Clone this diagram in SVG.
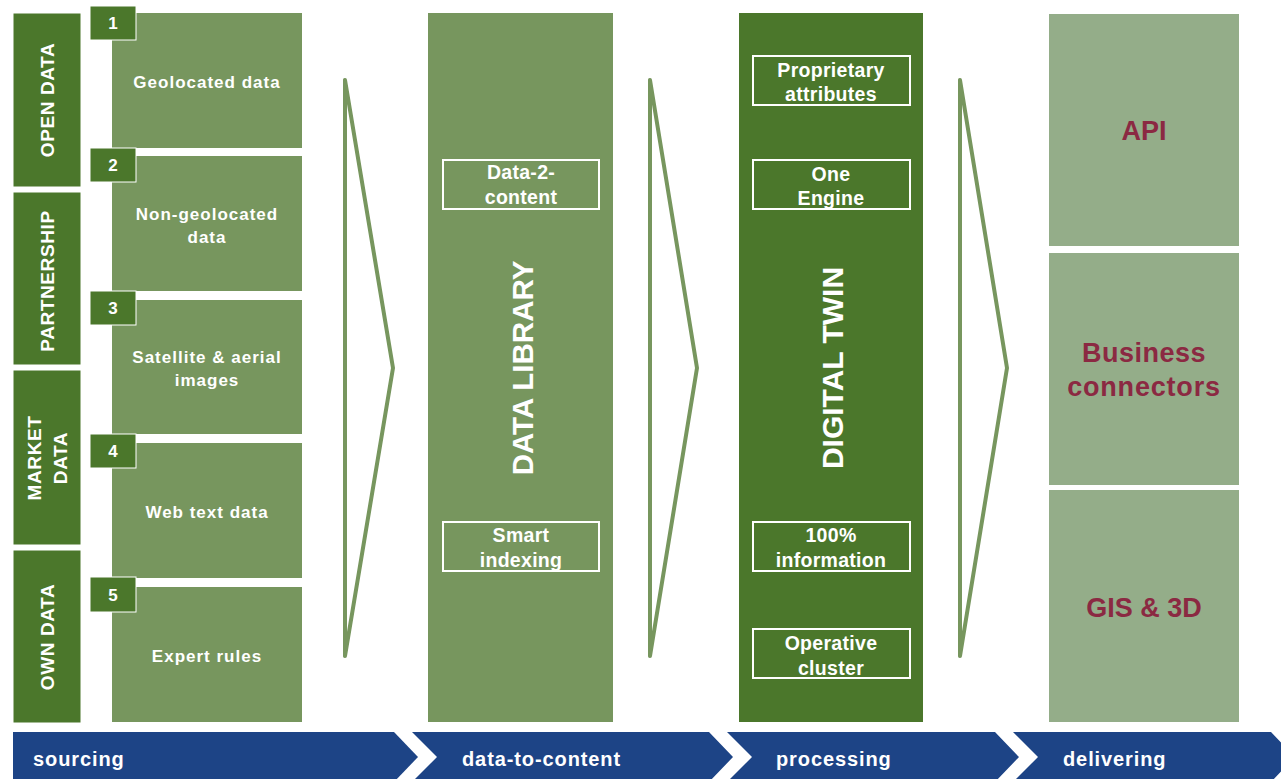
<svg xmlns="http://www.w3.org/2000/svg" width="1281" height="779" viewBox="0 0 1281 779">
<style>
.dk{fill:#4b772b;stroke:#ffffff;stroke-width:1}
.md{fill:#77965e}
.lt{fill:#94ad89}
.t{font-family:"Liberation Sans",Arial,sans-serif;font-weight:bold;fill:#ffffff;text-anchor:middle}
.s{font-size:17px;letter-spacing:1px}
.v{font-size:19px;letter-spacing:0.6px}
.b{font-size:19.5px;letter-spacing:0.3px}
.ph{font-size:20px;letter-spacing:0.9px;text-anchor:start}
.box{fill:none;stroke:#ffffff;stroke-width:2}
.conn{fill:none;stroke:#77965e;stroke-width:4;stroke-linejoin:round;stroke-linecap:round}
.bar{fill:#1d4486}
.red{font-family:"Liberation Sans",Arial,sans-serif;font-weight:bold;fill:#8b2942;text-anchor:middle;font-size:27px}
</style>
<rect width="1281" height="779" fill="#ffffff"/>

<g id="category-open-data">
<rect class="dk" x="13" y="13" width="68" height="174"/>
<text class="t v" transform="translate(54,100) rotate(-90)">OPEN DATA</text>
</g>
<g id="category-partnership">
<rect class="dk" x="13" y="192" width="68" height="173"/>
<text class="t v" transform="translate(54,281) rotate(-90)">PARTNERSHIP</text>
</g>
<g id="category-market-data">
<rect class="dk" x="13" y="370" width="68" height="175"/>
<text class="t v" transform="translate(41,458) rotate(-90)">MARKET</text>
<text class="t v" transform="translate(67,458) rotate(-90)">DATA</text>
</g>
<g id="category-own-data">
<rect class="dk" x="13" y="550" width="68" height="173"/>
<text class="t v" transform="translate(54,637) rotate(-90)">OWN DATA</text>
</g>

<g id="source-1">
<rect class="md" x="112" y="13" width="190" height="135"/>
<text class="t s" x="207" y="88">Geolocated data</text>
<rect class="dk" x="90" y="6" width="46" height="34"/>
<text class="t" font-size="17" x="113" y="29">1</text>
</g>
<g id="source-2">
<rect class="md" x="112" y="156" width="190" height="135"/>
<text class="t s" x="207" y="220">Non-geolocated</text>
<text class="t s" x="207" y="243">data</text>
<rect class="dk" x="90" y="148" width="46" height="34"/>
<text class="t" font-size="17" x="113" y="171">2</text>
</g>
<g id="source-3">
<rect class="md" x="112" y="300" width="190" height="134"/>
<text class="t s" x="207" y="363">Satellite &amp; aerial</text>
<text class="t s" x="207" y="386">images</text>
<rect class="dk" x="90" y="291" width="46" height="34"/>
<text class="t" font-size="17" x="113" y="314">3</text>
</g>
<g id="source-4">
<rect class="md" x="112" y="443" width="190" height="135"/>
<text class="t s" x="207" y="518">Web text data</text>
<rect class="dk" x="90" y="434" width="46" height="34"/>
<text class="t" font-size="17" x="113" y="457">4</text>
</g>
<g id="source-5">
<rect class="md" x="112" y="587" width="190" height="135"/>
<text class="t s" x="207" y="662">Expert rules</text>
<rect class="dk" x="90" y="577" width="46" height="35"/>
<text class="t" font-size="17" x="113" y="601">5</text>
</g>

<g id="connectors">
<path class="conn" d="M345,80 L345,656 M345,80 L393,368 L345,656"/>
<path class="conn" d="M650,80 L650,656 M650,80 L697,368 L650,656"/>
<path class="conn" d="M960,80 L960,656 M960,80 L1007,368 L960,656"/>
</g>

<g id="data-library">
<rect class="md" x="428" y="13" width="185" height="709"/>
<rect class="box" x="443" y="160" width="156" height="49"/>
<text class="t b" x="521" y="179">Data-2-</text>
<text class="t b" x="521" y="204">content</text>
<rect class="box" x="443" y="522" width="156" height="49"/>
<text class="t b" x="521" y="542">Smart</text>
<text class="t b" x="521" y="567">indexing</text>
<text class="t" font-size="29.5" transform="translate(533,368) rotate(-90)">DATA LIBRARY</text>
</g>

<g id="digital-twin">
<rect fill="#4b772b" x="739" y="13" width="184" height="709"/>
<rect class="box" x="753" y="56" width="157" height="49"/>
<text class="t b" x="831" y="77">Proprietary</text>
<text class="t b" x="831" y="101">attributes</text>
<rect class="box" x="753" y="160" width="157" height="49"/>
<text class="t b" x="831" y="181">One</text>
<text class="t b" x="831" y="205">Engine</text>
<rect class="box" x="753" y="522" width="157" height="49"/>
<text class="t b" x="831" y="542">100%</text>
<text class="t b" x="831" y="567">information</text>
<rect class="box" x="753" y="629" width="157" height="49"/>
<text class="t b" x="831" y="650">Operative</text>
<text class="t b" x="831" y="675">cluster</text>
<text class="t" font-size="30" transform="translate(843,368) rotate(-90)">DIGITAL TWIN</text>
</g>

<g id="delivery-api">
<rect class="lt" x="1049" y="14" width="190" height="232"/>
<text class="red" x="1144" y="140">API</text>
</g>
<g id="delivery-business-connectors">
<rect class="lt" x="1049" y="253" width="190" height="232"/>
<text class="red" x="1144" y="362" style="letter-spacing:0.5px">Business</text>
<text class="red" x="1144" y="396" style="letter-spacing:0.8px">connectors</text>
</g>
<g id="delivery-gis-3d">
<rect class="lt" x="1049" y="490" width="190" height="232"/>
<text class="red" x="1144" y="617">GIS &amp; 3D</text>
</g>

<g id="phase-sourcing">
<path class="bar" d="M13,732 L394,732 L418,757 L394,782 L13,782 Z"/>
<text class="t ph" x="33" y="766">sourcing</text>
</g>
<g id="phase-data-to-content">
<path class="bar" d="M412,732 L709,732 L733,757 L709,782 L412,782 L437,757 Z"/>
<text class="t ph" x="462" y="766">data-to-content</text>
</g>
<g id="phase-processing">
<path class="bar" d="M727,732 L995,732 L1019,757 L995,782 L727,782 L752,757 Z"/>
<text class="t ph" x="776" y="766">processing</text>
</g>
<g id="phase-delivering">
<path class="bar" d="M1013,732 L1271,732 L1295,757 L1271,782 L1013,782 L1038,757 Z"/>
<text class="t ph" x="1063" y="766">delivering</text>
</g>
</svg>
